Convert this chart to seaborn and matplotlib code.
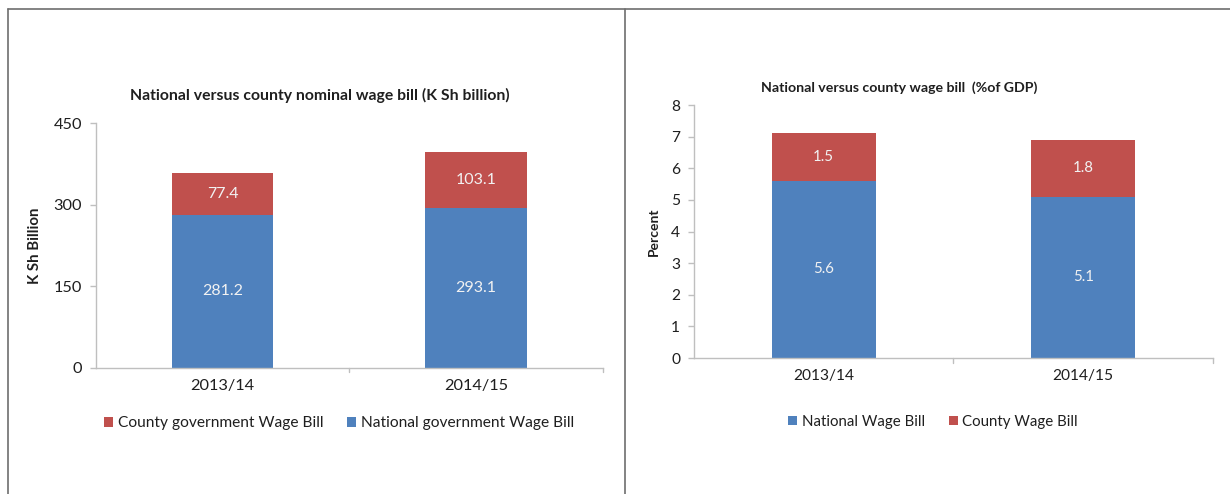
import matplotlib
matplotlib.use("Agg")
import matplotlib.pyplot as plt
from matplotlib.patches import Patch
from matplotlib.lines import Line2D
import seaborn as sns
import pandas as pd

# Fiscal years shown on both panels
years = ["2013/14", "2014/15"]

# Nominal wage bill, K Sh billion
national_ksh = [281.2, 293.1]
county_ksh = [77.4, 103.1]

# Wage bill as a share of GDP, percent
national_pct = [5.6, 5.1]
county_pct = [1.5, 1.8]

BLUE = "#4F81BD"
RED = "#C0504D"
AXIS = "#BFBFBF"
TEXT = "#1F1F1F"

sns.set_theme(style="white")
plt.rcParams["font.family"] = ["Lato", "DejaVu Sans"]

fig = plt.figure(figsize=(12.3, 4.94), dpi=100)
ax1 = fig.add_axes([0.0780, 0.2557, 0.4122, 0.4953])
ax2 = fig.add_axes([0.5642, 0.2753, 0.4220, 0.5121])


def stacked(ax, base, top, ymax, step, ylabel, title, title_y, fs):
    df = pd.DataFrame({"year": years, "base": base,
                       "total": [b + t for b, t in zip(base, top)]})
    # total bar first (county share shows above national)
    sns.barplot(data=df, x="year", y="total", color=RED, width=0.4,
                saturation=1, ax=ax, linewidth=0)
    sns.barplot(data=df, x="year", y="base", color=BLUE, width=0.4,
                saturation=1, ax=ax, linewidth=0)
    red_c, blue_c = ax.containers[0], ax.containers[1]
    ax.bar_label(blue_c, labels=[f"{v:.1f}" for v in base],
                 label_type="center", color="#F2F2F2", fontsize=fs["bar"])
    # label county segment at its own midpoint
    for rect, b, t in zip(red_c, base, top):
        ax.text(rect.get_x() + rect.get_width() / 2, b + t / 2, f"{t:.1f}",
                ha="center", va="center", color="#F2F2F2", fontsize=fs["bar"])

    ax.set_xlim(-0.5, 1.5)
    ax.set_ylim(0, ymax)
    ax.set_yticks([i * step for i in range(int(round(ymax / step)) + 1)])
    ax.set_xticks([0, 1])
    ax.set_xticklabels(years)
    ax.set_xlabel("")
    ax.set_ylabel(ylabel, fontsize=fs["ylabel"], fontweight="bold",
                  color=TEXT, labelpad=8)
    for s in ["top", "right"]:
        ax.spines[s].set_visible(False)
    for s in ["left", "bottom"]:
        ax.spines[s].set_color(AXIS)
        ax.spines[s].set_linewidth(1.0)
    ax.tick_params(axis="y", length=4, color=AXIS, width=1, direction="out",
                   left=True, labelsize=fs["tick"], labelcolor=TEXT, pad=6)
    ax.tick_params(axis="x", length=0, labelsize=fs["tick"], labelcolor=TEXT,
                   pad=8)
    # category separators on the x axis
    for xb in [0.5, 1.5]:
        ax.plot([xb, xb], [0, -ymax * 0.018], color=AXIS, lw=1,
                clip_on=False)
    ax.set_title(title, fontsize=fs["title"], fontweight="bold", color=TEXT,
                 y=title_y)


stacked(ax1, national_ksh, county_ksh, 450, 150, "K Sh Billion",
        "National versus county nominal wage bill (K Sh billion)", 1.06,
        {"bar": 11.5, "ylabel": 10.8, "tick": 11.8, "title": 11.3})
stacked(ax2, national_pct, county_pct, 8, 1, "Percent",
        "National versus county wage bill  (%of GDP)", 1.02,
        {"bar": 10.8, "ylabel": 10, "tick": 11.2, "title": 10.2})
ax1.title.set_x(0.442)
ax2.title.set_x(0.395)

h_cty = Patch(facecolor=RED, edgecolor="none")
h_nat = Patch(facecolor=BLUE, edgecolor="none")
fig.legend([h_cty, h_nat],
           ["County government Wage Bill", "National government Wage Bill"],
           loc="center", bbox_to_anchor=(0.2755, 0.143), ncol=2, frameon=False,
           fontsize=11.2, handlelength=0.6, handleheight=0.6,
           handletextpad=0.3, columnspacing=1.5, labelcolor=TEXT)
fig.legend([h_nat, h_cty], ["National Wage Bill", "County Wage Bill"],
           loc="center", bbox_to_anchor=(0.7585, 0.146), ncol=2, frameon=False,
           fontsize=10.8, handlelength=0.6, handleheight=0.6,
           handletextpad=0.3, columnspacing=1.6, labelcolor=TEXT)

# panel frame lines
frame = "#6E6E6E"
fig.add_artist(Line2D([8 / 1230, 1.0], [1 - 9 / 494, 1 - 9 / 494],
                      color=frame, lw=1.2))
fig.add_artist(Line2D([8 / 1230, 8 / 1230], [0, 1 - 9 / 494],
                      color=frame, lw=1.2))
fig.add_artist(Line2D([625 / 1230, 625 / 1230], [0, 1 - 9 / 494],
                      color=frame, lw=1.2))

fig.savefig("out.png", dpi=100, facecolor="white")
